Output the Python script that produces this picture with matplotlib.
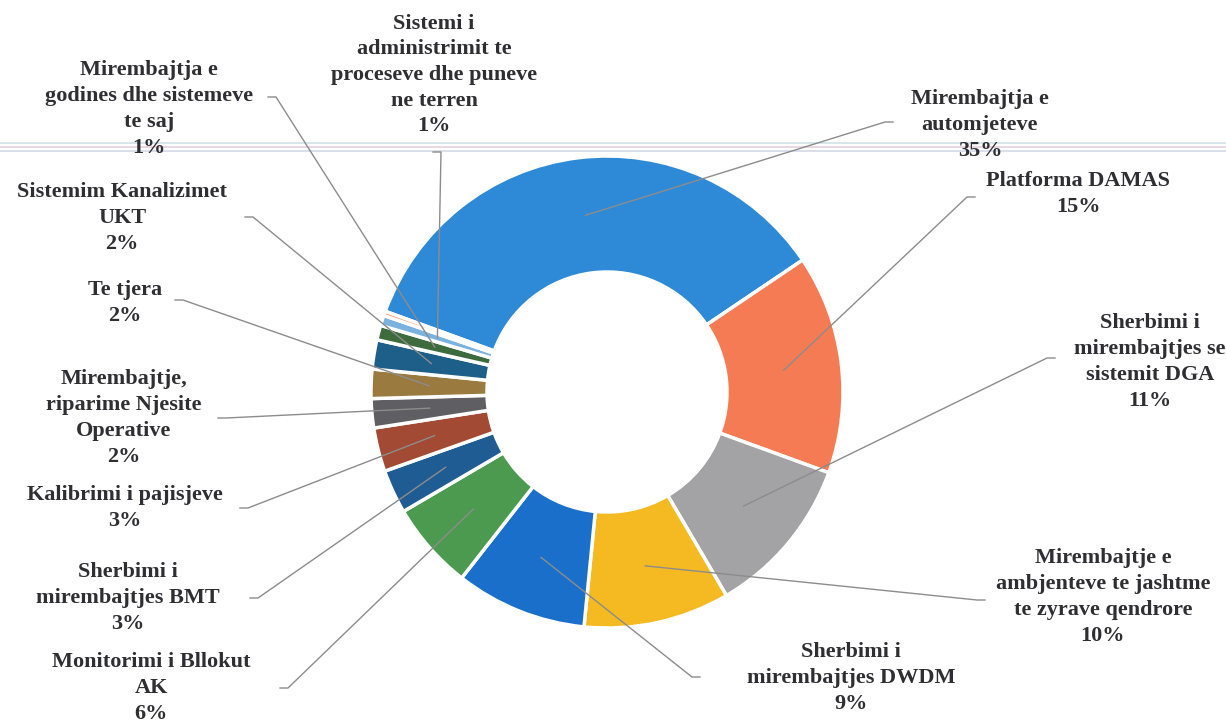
import numpy as np
import matplotlib.pyplot as plt

W, H = 1226, 726

names = [
    "Mirembajtja e\nautomjeteve",
    "Platforma DAMAS",
    "Sherbimi i\nmirembajtjes se\nsistemit DGA",
    "Mirembajtje e\nambjenteve te jashtme\nte zyrave qendrore",
    "Sherbimi i\nmirembajtjes DWDM",
    "Monitorimi i Bllokut\nAK",
    "Sherbimi i\nmirembajtjes BMT",
    "Kalibrimi i pajisjeve",
    "Mirembajtje,\nriparime Njesite\nOperative",
    "Te tjera",
    "Sistemim Kanalizimet\nUKT",
    "Mirembajtja e\ngodines dhe sistemeve\nte saj",
    "Sistemi i\nadministrimit te\nproceseve dhe puneve\nne terren",
    None,
]
values = [35, 15, 11, 10, 9, 6, 3, 3, 2, 2, 2, 1, 0.7, 0.3]
colors = ["#2e8ad6", "#f47b53", "#a3a3a6", "#f5b921", "#1a6fcb", "#4c9a50",
          "#1f5c94", "#a34a35", "#5e5e63", "#9a7a3f", "#1e5f8a", "#3e6b3e",
          "#7ab3e0", "#f19a6b"]

# label centres and leader-line start points (pixel coords, y down)
label_pos = [(980, 125), (1078, 194), (1150, 362), (1103, 597), (851, 678),
             (151, 688), (128, 598), (125, 508), (124, 418), (125, 303),
             (122, 218), (149, 109), (434, 75), None]
leader_start = [(893, 122), (975, 197), (1055, 358), (985, 600), (700, 677),
                (280, 688), (250, 598), (240, 508), (218, 418), (175, 300),
                (245, 217), (268, 97), (433, 152), None]

cx, cy, R, ring = 607, 392, 236, 116

fig = plt.figure(figsize=(W / 100, H / 100), dpi=100)
ax = fig.add_axes([0, 0, 1, 1])

# faint scanner streaks
for yy, c in [(143, "#cfe0ea"), (147, "#e6cfdc"), (151, "#d3d9e6")]:
    ax.axhline(H - yy, color=c, lw=1.2, zorder=0)

wedges, _ = ax.pie(values, colors=colors, startangle=160, counterclock=False,
                   center=(cx, H - cy), radius=R,
                   wedgeprops=dict(width=ring, edgecolor="white", linewidth=2.5))

total = sum(values)
rmid = R - ring / 2
for w, name, v, lp, ls in zip(wedges, names, values, label_pos, leader_start):
    if name is None:
        continue
    ang = np.deg2rad((w.theta1 + w.theta2) / 2)
    ex = cx + rmid * np.cos(ang)
    ey = (H - cy) + rmid * np.sin(ang)
    sx, sy = ls[0], H - ls[1]
    tick = 8 if sx < ex else -8
    ax.plot([sx, sx + tick, ex], [sy, sy, ey], color="#8c8c8c", lw=1, zorder=3)
    ax.text(lp[0], H - lp[1], f"{name}\n{round(v / total * 100)}%",
            ha="center", va="center", multialignment="center",
            fontsize=16, fontweight="bold", family="Liberation Serif",
            color="#2f2f33", linespacing=1.38)

ax.set_xlim(0, W)
ax.set_ylim(0, H)
ax.set_aspect("equal")
ax.axis("off")

fig.savefig("out.png", dpi=100)
